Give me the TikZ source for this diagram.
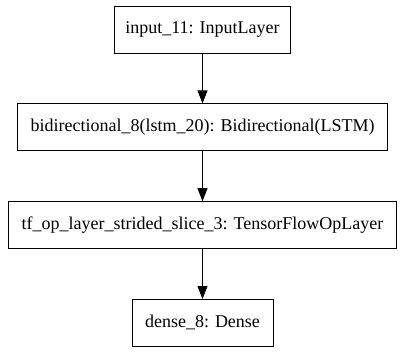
\documentclass[tikz,border=0pt]{standalone}
\usepackage{fontspec}
\setmainfont{Liberation Serif}
\usetikzlibrary{arrows.meta,positioning}

\begin{document}
\begin{tikzpicture}[x=1bp,y=1bp,node distance=50bp,line width=0.8bp,
	layer/.style={draw,rectangle,minimum height=47bp,inner xsep=11bp,
		font=\fontsize{18bp}{20bp}\selectfont},
	>={Triangle[length=13bp,width=10bp]}]
	\useasboundingbox (0,0) rectangle (405,-352);
	\node[layer] (input) at (202.5,-29.5) {input\_11: InputLayer};
	\node[layer,inner xsep=13bp] (bidir) [below=of input] {bidirectional\_8(lstm\_20): Bidirectional(LSTM)};
	\node[layer,inner xsep=13bp] (slice) [below=of bidir] {tf\_op\_layer\_strided\_slice\_3: TensorFlowOpLayer};
	\node[layer,minimum width=141bp] (dense) [below=of slice] {dense\_8: Dense};

	\path[->]   (input) edge (bidir)
		(bidir) edge (slice)
		(slice) edge (dense);
\end{tikzpicture}
\end{document}
